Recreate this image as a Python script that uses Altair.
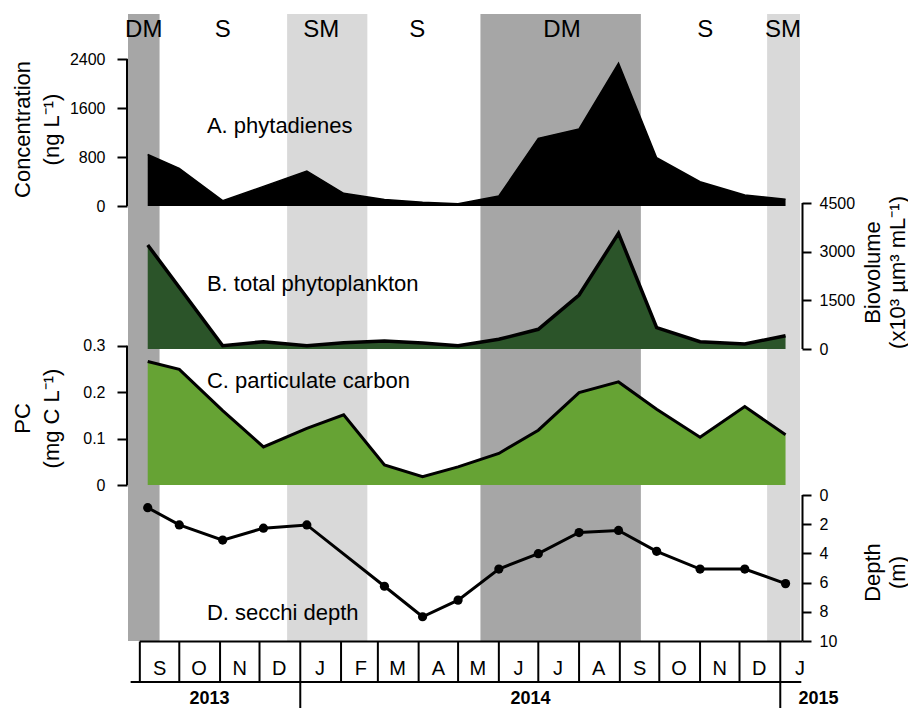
import altair as alt
import pandas as pd

FONT = "Liberation Sans"

# ---------------- data ----------------
sample_dates = ["2013-09-07", "2013-10-01", "2013-11-03", "2013-12-04", "2014-01-06",
                "2014-02-03", "2014-03-06", "2014-04-04", "2014-05-01", "2014-06-01",
                "2014-07-01", "2014-08-01", "2014-08-31", "2014-09-29", "2014-11-01",
                "2014-12-05", "2015-01-05"]
phytadienes = [840, 615, 87, 320, 572, 207, 105, 60, 35, 163, 1105, 1257, 2330, 789, 397, 180, 109]
biovolume = [3205, None, 102, 225, 102, 194, 247, 185, 100, 300, 607, 1664, 3566, 657, 225, 154, 410]
part_carbon = [0.266, 0.249, 0.160, 0.082, 0.122, 0.151, 0.043, 0.018, 0.039, 0.068, 0.118,
               0.199, 0.222, 0.163, 0.103, 0.169, 0.108]
secchi = [0.87, 2.05, 3.09, 2.27, 2.05, None, 6.25, 8.34, 7.2, 5.07, 4.02, 2.57, 2.43, 3.86,
          5.07, 5.07, 6.07]

band_season = ["DM", "SM", "DM", "SM"]
band_start = ["2013-08-23", "2013-12-22", "2014-05-18", "2014-12-22"]
band_end = ["2013-09-16", "2014-02-21", "2014-09-17", "2015-01-16"]

season_labels = ["DM", "S", "SM", "S", "DM", "S", "SM"]
season_label_dates = ["2013-09-04", "2013-11-03", "2014-01-17", "2014-03-31",
                      "2014-07-19", "2014-11-05", "2015-01-03"]

month_starts = ["2013-09-01", "2013-10-01", "2013-11-01", "2013-12-01", "2014-01-01",
                "2014-02-01", "2014-03-01", "2014-04-01", "2014-05-01", "2014-06-01",
                "2014-07-01", "2014-08-01", "2014-09-01", "2014-10-01", "2014-11-01",
                "2014-12-01", "2015-01-01"]
month_letters = ["S", "O", "N", "D", "J", "F", "M", "A", "M", "J", "J", "A", "S", "O", "N", "D", "J"]
month_mids = [d[:8] + "16" for d in month_starts]

year_labels = ["2013", "2014", "2015"]
year_label_dates = ["2013-10-24", "2014-06-25", "2015-01-30"]
year_breaks = ["2014-01-01", "2015-01-01"]

panel_labels = ["A. phytadienes", "B. total phytoplankton", "C. particulate carbon", "D. secchi depth"]
panel_label_date = "2013-10-22"
panel_label_values = [1300, 2000, 0.225, 8.1]

# ---------------- layout ----------------
W, H = 672, 627
XS = alt.Scale(type="utc",
               domain=[alt.DateTime(year=2013, month=8, date=23, utc=True),
                       alt.DateTime(year=2015, month=1, date=16, utc=True)])


def X(f):
    return alt.X(f"{f}:T", scale=XS, axis=None)


def dom(v0, p0, v1, p1):
    k = (v1 - v0) / (p0 - p1)
    return [v0 - (H - p0) * k, v0 + p0 * k]


domA = dom(0, 192, 2400, 45)
domB = dom(0, 335, 4500, 189)
domC = dom(0, 471, 0.3, 331.7)
kD = 10 / 146.0
domD = [-481 * kD, 10]

B_FILL = "#2b5429"
C_FILL = "#66a334"


def axis(orient, values, title, fmt, tx, ty, offset):
    left = orient == "left"
    return alt.Axis(orient=orient, values=values, format=fmt, domain=False, grid=False,
                    offset=offset, ticks=True, tickSize=10 if left else 9,
                    tickWidth=2, tickColor="black", tickOpacity=1,
                    labelFont=FONT, labelFontSize=16, labelColor="black",
                    labelPadding=12 if left else 8,
                    title=title, titleFont=FONT, titleFontSize=22, titleFontWeight="normal",
                    titleColor="black", titleAngle=270, titleAlign="center",
                    titleBaseline="middle", titleLineHeight=29 if left else 25,
                    titleX=tx, titleY=ty, zindex=2)


def series(col, values):
    d = pd.DataFrame({"date": sample_dates, col: values})
    return d.dropna().reset_index(drop=True)


dfA = series("phy", phytadienes)
dfB = series("bio", biovolume)
dfC = series("pc", part_carbon)
dfD = series("sec", secchi)

layers = []

# ---------------- background bands ----------------
layers.append(alt.Chart(pd.DataFrame({"s": band_season, "a": band_start, "b": band_end})).mark_rect().encode(
    x=X("a"), x2="b", y=alt.value(0), y2=alt.value(H),
    color=alt.Color("s:N", scale=alt.Scale(domain=["DM", "SM"], range=["#a6a6a6", "#d9d9d9"]), legend=None)))

layers.append(alt.Chart(pd.DataFrame({"t": season_labels, "d": season_label_dates})).mark_text(
    font=FONT, fontSize=24, color="black", baseline="middle", align="center").encode(
    x=X("d"), y=alt.value(16), text="t:N"))


def spine(lo, hi, scale, xpos):
    return alt.Chart(pd.DataFrame({"lo": [lo], "hi": [hi]})).mark_rule(color="black", strokeWidth=2).encode(
        x=alt.value(xpos), y=alt.Y("lo:Q", scale=scale, axis=None), y2="hi:Q")


def plabel(i, scale):
    return alt.Chart(pd.DataFrame({"d": [panel_label_date], "v": [panel_label_values[i]],
                                   "t": [panel_labels[i]]})).mark_text(
        font=FONT, fontSize=22, color="black", align="left", baseline="middle").encode(
        x=X("d"), y=alt.Y("v:Q", scale=scale, axis=None), text="t:N")


LTX, RTX = -105, 70

# ---------------- panel A ----------------
sA = alt.Scale(domain=domA, nice=False, zero=False)
layers.append(alt.Chart(dfA).mark_area(color="black", opacity=1,
                                        line={"color": "black", "strokeWidth": 1.5}).encode(
    x=X("date"),
    y=alt.Y("phy:Q", scale=sA,
            axis=axis("left", [0, 800, 1600, 2400], ["Concentration", "(ng L⁻¹)"], "d", LTX, 115, 1))))
layers += [spine(0, 2400, sA, -1), plabel(0, sA)]

# ---------------- panel B ----------------
sB = alt.Scale(domain=domB, nice=False, zero=False)
layers.append(alt.Chart(dfB).mark_area(color=B_FILL, opacity=1,
                                        line={"color": "black", "strokeWidth": 3.5}).encode(
    x=X("date"),
    y=alt.Y("bio:Q", scale=sB,
            axis=axis("right", [0, 1500, 3000, 4500], ["Biovolume", "(x10³ µm³ mL⁻¹)"], "d", RTX, 258, 2))))
layers += [spine(0, 4500, sB, W + 2.5), plabel(1, sB)]

# ---------------- panel C ----------------
sC = alt.Scale(domain=domC, nice=False, zero=False)
layers.append(alt.Chart(dfC).mark_area(color=C_FILL, opacity=1,
                                        line={"color": "black", "strokeWidth": 3}).encode(
    x=X("date"),
    y=alt.Y("pc:Q", scale=sC,
            axis=axis("left", [0, 0.1, 0.2, 0.3], ["PC", "(mg C L⁻¹)"], "~g", LTX, 404, 1))))
layers += [spine(0, 0.3, sC, -1), plabel(2, sC)]

# ---------------- panel D ----------------
sD = alt.Scale(domain=domD, reverse=True, nice=False, zero=False)
layers.append(alt.Chart(dfD).mark_line(color="black", strokeWidth=3).encode(
    x=X("date"),
    y=alt.Y("sec:Q", scale=sD,
            axis=axis("right", [0, 2, 4, 6, 8, 10], ["Depth", "(m)"], "d", RTX, 558, 2))))
layers.append(alt.Chart(dfD).mark_point(filled=True, size=85, color="black", opacity=1).encode(
    x=X("date"), y=alt.Y("sec:Q", scale=sD, axis=None)))
layers += [spine(0, 10, sD, W + 2.5), plabel(3, sD)]

# ---------------- month / year row ----------------
ROW_TOP, ROW_BOT, YEAR_BOT = H + 0.5, H + 41, H + 67
layers.append(alt.Chart(pd.DataFrame({"a": ["2013-09-01"], "b": ["2015-01-18"]})).mark_rule(
    color="black", strokeWidth=2).encode(x=X("a"), x2="b", y=alt.value(ROW_TOP)))
layers.append(alt.Chart(pd.DataFrame({"a": ["2013-08-25"], "b": ["2015-01-17"]})).mark_rule(
    color="black", strokeWidth=2).encode(x=X("a"), x2="b", y=alt.value(ROW_BOT)))
layers.append(alt.Chart(pd.DataFrame({"d": month_starts})).mark_rule(color="black", strokeWidth=2).encode(
    x=X("d"), y=alt.value(ROW_TOP), y2=alt.value(ROW_BOT)))
layers.append(alt.Chart(pd.DataFrame({"d": year_breaks})).mark_rule(color="black", strokeWidth=2).encode(
    x=X("d"), y=alt.value(ROW_BOT), y2=alt.value(YEAR_BOT)))
layers.append(alt.Chart(pd.DataFrame({"d": month_mids, "t": month_letters})).mark_text(
    font=FONT, fontSize=20, color="black", baseline="middle", align="center").encode(
    x=X("d"), y=alt.value(H + 27.5), text="t:N"))
layers.append(alt.Chart(pd.DataFrame({"d": year_label_dates, "t": year_labels})).mark_text(
    font=FONT, fontSize=18, fontWeight="bold", color="black", baseline="middle", align="center").encode(
    x=X("d"), y=alt.value(H + 58), text="t:N"))

chart = alt.layer(*layers).resolve_scale(y="independent", color="independent").properties(
    width=W, height=H,
    autosize=alt.AutoSizeParams(type="none"),
    padding={"left": 120, "top": 6, "right": 108, "bottom": 67},
    background="white",
).configure_view(stroke=None)

chart.save("out.html", embed_options={"renderer": "svg", "actions": False})
